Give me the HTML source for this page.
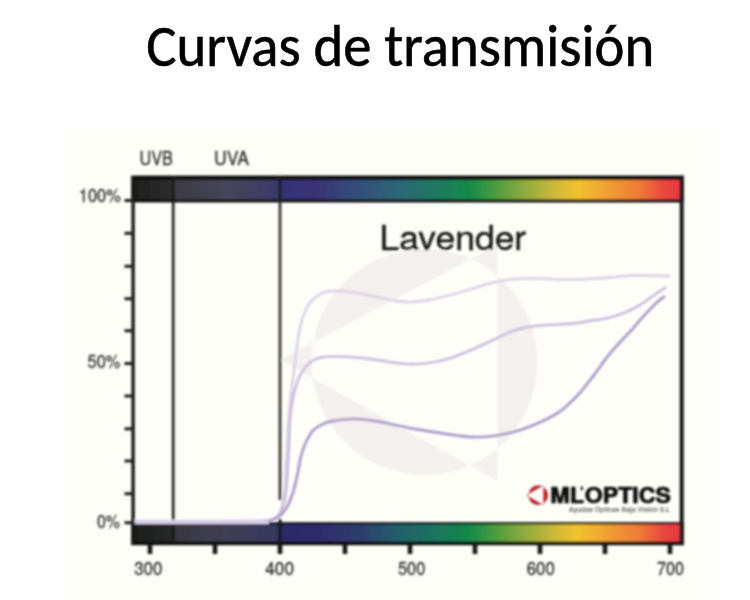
<!DOCTYPE html>
<html><head><meta charset="utf-8"><title>Curvas de transmisión</title>
<style>html,body{margin:0;padding:0;background:#fff;width:750px;height:600px;overflow:hidden}svg{display:block}</style>
</head><body>
<svg width="750" height="600" viewBox="0 0 750 600">
<defs><filter id="bl" x="-5%" y="-5%" width="110%" height="110%"><feGaussianBlur stdDeviation="1"/></filter><linearGradient id="band" x1="131" y1="0" x2="683" y2="0" gradientUnits="userSpaceOnUse"><stop offset="0.0000" stop-color="#1c1c1a"/><stop offset="0.0743" stop-color="#2e2e2e"/><stop offset="0.0797" stop-color="#3c3b44"/><stop offset="0.1703" stop-color="#46455a"/><stop offset="0.2663" stop-color="#3c3a6a"/><stop offset="0.2736" stop-color="#33307a"/><stop offset="0.3243" stop-color="#3b3074"/><stop offset="0.3967" stop-color="#364a7a"/><stop offset="0.4873" stop-color="#2c6776"/><stop offset="0.5598" stop-color="#1e7a5e"/><stop offset="0.6141" stop-color="#17894a"/><stop offset="0.6504" stop-color="#3f9a40"/><stop offset="0.7047" stop-color="#86a840"/><stop offset="0.7681" stop-color="#cdb93a"/><stop offset="0.8098" stop-color="#f2c22e"/><stop offset="0.8678" stop-color="#f09c36"/><stop offset="0.9221" stop-color="#ec7a38"/><stop offset="0.9674" stop-color="#e8463e"/><stop offset="1.0000" stop-color="#e83640"/></linearGradient><linearGradient id="band2" x1="131" y1="0" x2="683" y2="0" gradientUnits="userSpaceOnUse"><stop offset="0.0000" stop-color="#1a1d1b"/><stop offset="0.0743" stop-color="#272a29"/><stop offset="0.0797" stop-color="#38373f"/><stop offset="0.1703" stop-color="#403f55"/><stop offset="0.2663" stop-color="#363660"/><stop offset="0.2736" stop-color="#2b2968"/><stop offset="0.3424" stop-color="#2f2c6e"/><stop offset="0.4149" stop-color="#2c3e6c"/><stop offset="0.4873" stop-color="#24606c"/><stop offset="0.5507" stop-color="#1b7460"/><stop offset="0.6141" stop-color="#17894a"/><stop offset="0.6504" stop-color="#3f9a40"/><stop offset="0.7047" stop-color="#86a840"/><stop offset="0.7681" stop-color="#cdb93a"/><stop offset="0.8098" stop-color="#f2c22e"/><stop offset="0.8678" stop-color="#f09c36"/><stop offset="0.9221" stop-color="#ec7a38"/><stop offset="0.9674" stop-color="#e8463e"/><stop offset="1.0000" stop-color="#e83640"/></linearGradient></defs>
<rect x="0" y="0" width="750" height="600" fill="#ffffff"/>
<rect x="64" y="129" width="650" height="471" fill="#fefef9"/>
<rect x="134" y="201" width="546" height="322" fill="#fefef9"/>
<text x="146.2" y="65.7" font-size="60.3" textLength="508" lengthAdjust="spacingAndGlyphs" font-family="Carlito, 'Liberation Sans', sans-serif" style="font-size-adjust:0.4775" fill="#000" stroke="#000" stroke-width="0.6">Curvas de transmisión</text>
<g filter="url(#bl)">
<path fill="#f4f0ed" fill-rule="evenodd" d="M311.5,362 a113,113 0 1,0 226,0 a113,113 0 1,0 -226,0 Z M280,360 L497.5,245 L497.5,481 Z"/>
<text x="379.6" y="250" font-size="34" textLength="146.6" lengthAdjust="spacingAndGlyphs" font-family="'TeX Gyre Heros', 'Liberation Sans', Arial, sans-serif" fill="#161616" stroke="#161616" stroke-width="0.35">Lavender</text>
<!-- top band -->
<rect x="131.3" y="175.6" width="552.4" height="26.8" fill="#101010"/>
<rect x="134.5" y="180" width="545.5" height="19.4" fill="url(#band)"/>
<!-- bottom band -->
<rect x="131.3" y="522.2" width="552.4" height="23" fill="#101010"/>
<rect x="134.5" y="524.4" width="545.5" height="17.2" fill="url(#band2)"/>
<!-- vertical lines -->
<rect x="131.4" y="176" width="3.4" height="369" fill="#161616"/>
<rect x="679.7" y="175.6" width="4.0" height="369.6" fill="#121212"/>
<rect x="171.8" y="176" width="2.8" height="369" fill="#262626"/>
<rect x="278.6" y="176" width="2.8" height="324" fill="#3a3634"/>
<rect x="278.6" y="519" width="2.8" height="26" fill="#141414"/>
<rect x="278.8" y="176" width="2.4" height="26" fill="#121212"/>
<rect x="172" y="176" width="2.4" height="26" fill="#121212"/>
<rect x="172" y="522" width="2.4" height="23" fill="#141414"/>
<rect x="124.5" y="199.0" width="9" height="3" fill="#1e1e1e"/><rect x="124.5" y="231.8" width="9" height="3" fill="#1e1e1e"/><rect x="124.5" y="264.8" width="9" height="3" fill="#1e1e1e"/><rect x="124.5" y="297.2" width="9" height="3" fill="#1e1e1e"/><rect x="124.5" y="329.2" width="9" height="3" fill="#1e1e1e"/><rect x="124.5" y="362.0" width="9" height="3" fill="#1e1e1e"/><rect x="124.5" y="394.5" width="9" height="3" fill="#1e1e1e"/><rect x="124.5" y="427.3" width="9" height="3" fill="#1e1e1e"/><rect x="124.5" y="459.5" width="9" height="3" fill="#1e1e1e"/><rect x="124.5" y="492.2" width="9" height="3" fill="#1e1e1e"/><rect x="124.5" y="521.2" width="9" height="3" fill="#1e1e1e"/><rect x="147.7" y="544" width="4.6" height="10" fill="#141414"/><rect x="212.7" y="544" width="4.6" height="10" fill="#141414"/><rect x="277.7" y="544" width="4.6" height="10" fill="#141414"/><rect x="342.7" y="544" width="4.6" height="10" fill="#141414"/><rect x="407.7" y="544" width="4.6" height="10" fill="#141414"/><rect x="472.7" y="544" width="4.6" height="10" fill="#141414"/><rect x="537.7" y="544" width="4.6" height="10" fill="#141414"/><rect x="602.7" y="544" width="4.6" height="10" fill="#141414"/><rect x="667.7" y="544" width="4.6" height="10" fill="#141414"/>
<path d="M136.0,521.5 C146.7,521.5 179.7,521.5 200.0,521.5 C220.3,521.5 246.3,521.5 258.0,521.3 C269.7,521.1 266.8,521.0 270.0,520.3 C273.2,519.6 275.1,519.0 277.0,517.0 C278.9,515.0 280.2,512.2 281.5,508.0 C282.8,503.8 283.7,500.8 284.5,492.0 C285.3,483.2 285.8,467.0 286.5,455.0 C287.2,443.0 287.8,430.0 288.5,420.0 C289.2,410.0 290.1,403.3 291.0,395.0 C291.9,386.7 293.1,377.5 294.0,370.0 C294.9,362.5 295.6,356.7 296.5,350.0 C297.4,343.3 298.2,336.0 299.5,330.0 C300.8,324.0 302.1,318.8 304.0,314.0 C305.9,309.2 308.0,305.0 311.0,301.5 C314.0,298.0 318.4,294.8 322.0,293.0 C325.6,291.2 327.3,291.1 332.6,291.0 C337.9,290.9 346.9,291.4 354.0,292.4 C361.1,293.3 368.2,295.3 375.3,296.7 C382.4,298.1 390.6,300.1 396.6,301.0 C402.6,301.9 406.2,302.2 411.5,302.0 C416.8,301.8 422.2,301.2 428.6,300.0 C435.0,298.8 442.9,296.8 450.0,295.0 C457.1,293.2 464.2,291.1 471.3,289.0 C478.4,286.9 485.5,284.4 492.6,282.7 C499.7,281.0 506.9,279.7 514.0,279.0 C521.1,278.3 528.2,278.3 535.3,278.4 C542.4,278.4 549.5,279.1 556.6,279.3 C563.7,279.5 569.1,279.8 578.0,279.5 C586.9,279.2 600.8,278.2 610.0,277.5 C619.2,276.8 623.2,275.8 633.0,275.5 C642.8,275.2 662.6,275.9 668.5,276.0" fill="none" stroke="#dcd3e4" stroke-width="2.8" stroke-linecap="round" stroke-linejoin="round"/><path d="M136.0,521.5 C146.7,521.5 179.7,521.5 200.0,521.5 C220.3,521.5 246.3,521.5 258.0,521.3 C269.7,521.1 266.8,521.1 270.0,520.3 C273.2,519.5 275.4,518.5 277.5,516.5 C279.6,514.5 281.1,512.1 282.5,508.0 C283.9,503.9 285.0,500.8 286.0,492.0 C287.0,483.2 287.8,467.0 288.5,455.0 C289.2,443.0 289.3,429.2 290.0,420.0 C290.7,410.8 291.6,405.3 292.5,400.0 C293.4,394.7 294.1,392.3 295.5,388.0 C296.9,383.7 298.1,378.4 300.7,374.0 C303.3,369.6 307.8,364.3 311.3,361.5 C314.9,358.7 316.7,358.0 322.0,357.2 C327.3,356.4 336.2,356.4 343.3,356.6 C350.4,356.8 357.5,357.5 364.6,358.3 C371.7,359.1 378.9,360.4 386.0,361.3 C393.1,362.2 400.2,363.7 407.3,364.0 C414.4,364.3 421.5,363.9 428.6,363.0 C435.7,362.1 442.9,360.5 450.0,358.3 C457.1,356.1 464.2,352.8 471.3,349.8 C478.4,346.8 485.5,343.4 492.6,340.2 C499.7,337.0 506.9,333.0 514.0,330.6 C521.1,328.2 528.2,326.9 535.3,325.9 C542.4,324.9 549.5,325.1 556.6,324.6 C563.7,324.1 572.4,323.4 578.0,322.8 C583.6,322.2 585.2,321.6 590.0,320.8 C594.8,320.1 601.2,319.6 606.7,318.3 C612.2,317.1 617.8,315.5 623.3,313.3 C628.8,311.1 634.4,308.3 640.0,305.0 C645.6,301.7 652.4,296.2 656.7,293.3 C661.0,290.4 664.3,288.5 665.8,287.5" fill="none" stroke="#cabddd" stroke-width="2.7" stroke-linecap="round" stroke-linejoin="round"/><path d="M136.0,521.5 C146.7,521.5 180.2,521.5 200.0,521.5 C219.8,521.5 244.2,521.4 255.0,521.3 C265.8,521.2 262.0,521.3 265.0,521.0 C268.0,520.7 270.3,520.5 273.0,519.5 C275.7,518.5 278.5,517.4 281.0,515.0 C283.5,512.6 285.9,509.0 288.0,505.0 C290.1,501.0 291.9,496.2 293.5,491.0 C295.1,485.8 296.2,479.8 297.5,474.0 C298.8,468.2 299.6,461.3 301.0,456.0 C302.4,450.7 304.0,446.2 306.0,442.0 C308.0,437.8 310.3,433.4 313.0,430.5 C315.7,427.6 318.7,426.1 322.0,424.5 C325.3,422.9 327.3,421.9 332.6,421.0 C337.9,420.1 346.9,418.9 354.0,418.9 C361.1,418.9 368.2,419.9 375.3,421.0 C382.4,422.1 389.5,423.9 396.6,425.3 C403.7,426.7 409.1,428.0 418.0,429.5 C426.9,431.0 441.1,433.2 450.0,434.5 C458.9,435.8 464.2,436.7 471.3,437.0 C478.4,437.3 485.5,437.0 492.6,436.1 C499.7,435.2 506.9,433.8 514.0,431.8 C521.1,429.9 528.2,427.4 535.3,424.4 C542.4,421.4 551.5,416.7 556.6,413.7 C561.7,410.7 562.1,410.0 566.0,406.5 C569.9,403.0 575.3,397.9 580.0,392.7 C584.7,387.4 589.3,381.1 594.0,375.0 C598.7,368.9 603.3,361.8 608.0,356.0 C612.7,350.2 618.0,344.4 622.0,340.0 C626.0,335.6 628.8,333.0 632.0,329.5 C635.2,326.0 636.9,323.5 641.0,319.0 C645.1,314.5 652.8,306.2 656.7,302.5 C660.6,298.8 663.0,297.7 664.2,296.7" fill="none" stroke="#ad9ec9" stroke-width="2.9" stroke-linecap="round" stroke-linejoin="round"/>
<rect x="134.8" y="519.8" width="134" height="4.4" fill="#d6cce6"/>
<text x="78.8" y="201.5" font-size="18.5" textLength="42" lengthAdjust="spacingAndGlyphs" font-family="'TeX Gyre Heros', 'Liberation Sans', Arial, sans-serif" fill="#333" stroke="#333" stroke-width="0.3" >100%</text><text x="87.6" y="367.8" font-size="18.5" textLength="32.8" lengthAdjust="spacingAndGlyphs" font-family="'TeX Gyre Heros', 'Liberation Sans', Arial, sans-serif" fill="#333" stroke="#333" stroke-width="0.3" >50%</text><text x="96.9" y="527.6" font-size="18.5" textLength="23" lengthAdjust="spacingAndGlyphs" font-family="'TeX Gyre Heros', 'Liberation Sans', Arial, sans-serif" fill="#333" stroke="#333" stroke-width="0.3" >0%</text><text x="134.2" y="575.1" font-size="19" textLength="28.3" lengthAdjust="spacingAndGlyphs" font-family="'TeX Gyre Heros', 'Liberation Sans', Arial, sans-serif" fill="#333" stroke="#333" stroke-width="0.3" >300</text><text x="265.2" y="575.1" font-size="19" textLength="28.9" lengthAdjust="spacingAndGlyphs" font-family="'TeX Gyre Heros', 'Liberation Sans', Arial, sans-serif" fill="#333" stroke="#333" stroke-width="0.3" >400</text><text x="397.9" y="575.1" font-size="19" textLength="27.4" lengthAdjust="spacingAndGlyphs" font-family="'TeX Gyre Heros', 'Liberation Sans', Arial, sans-serif" fill="#333" stroke="#333" stroke-width="0.3" >500</text><text x="526.7" y="575.1" font-size="19" textLength="28.2" lengthAdjust="spacingAndGlyphs" font-family="'TeX Gyre Heros', 'Liberation Sans', Arial, sans-serif" fill="#333" stroke="#333" stroke-width="0.3" >600</text><text x="657.1" y="575.1" font-size="19" textLength="27.0" lengthAdjust="spacingAndGlyphs" font-family="'TeX Gyre Heros', 'Liberation Sans', Arial, sans-serif" fill="#333" stroke="#333" stroke-width="0.3" >700</text><text x="139.5" y="165.3" font-size="18.3" textLength="33.4" lengthAdjust="spacingAndGlyphs" font-family="'TeX Gyre Heros', 'Liberation Sans', Arial, sans-serif" fill="#333" stroke="#333" stroke-width="0.3" >UVB</text><text x="214" y="165.3" font-size="18.3" textLength="35" lengthAdjust="spacingAndGlyphs" font-family="'TeX Gyre Heros', 'Liberation Sans', Arial, sans-serif" fill="#333" stroke="#333" stroke-width="0.3" >UVA</text>
<path fill="#b9232a" fill-rule="evenodd" d="M528.35,495.2 a9.85,9.85 0 1,0 19.7,0 a9.85,9.85 0 1,0 -19.7,0 Z M526.3,495.3 L543.4,485.4 L543.4,505.0 Z"/><text x="550.3" y="502.9" font-size="21.2" textLength="33.8" lengthAdjust="spacingAndGlyphs" font-family="'TeX Gyre Heros', 'Liberation Sans', Arial, sans-serif" font-weight="bold" fill="#111" stroke="#111" stroke-width="0.7">ML</text><text x="584.8" y="502.9" font-size="21.2" textLength="86" lengthAdjust="spacingAndGlyphs" font-family="'TeX Gyre Heros', 'Liberation Sans', Arial, sans-serif" font-weight="bold" fill="#111" stroke="#111" stroke-width="0.7">OPTICS</text><rect x="580.6" y="486.6" width="2.4" height="3.6" fill="#222"/><text x="568.8" y="512" font-size="6.6" font-weight="bold" textLength="101.4" lengthAdjust="spacingAndGlyphs" font-family="'TeX Gyre Heros', 'Liberation Sans', Arial, sans-serif" fill="#6a6a6a">Ayudas Ópticas Baja Visión S.L</text>
</g>
</svg>
</body></html>
